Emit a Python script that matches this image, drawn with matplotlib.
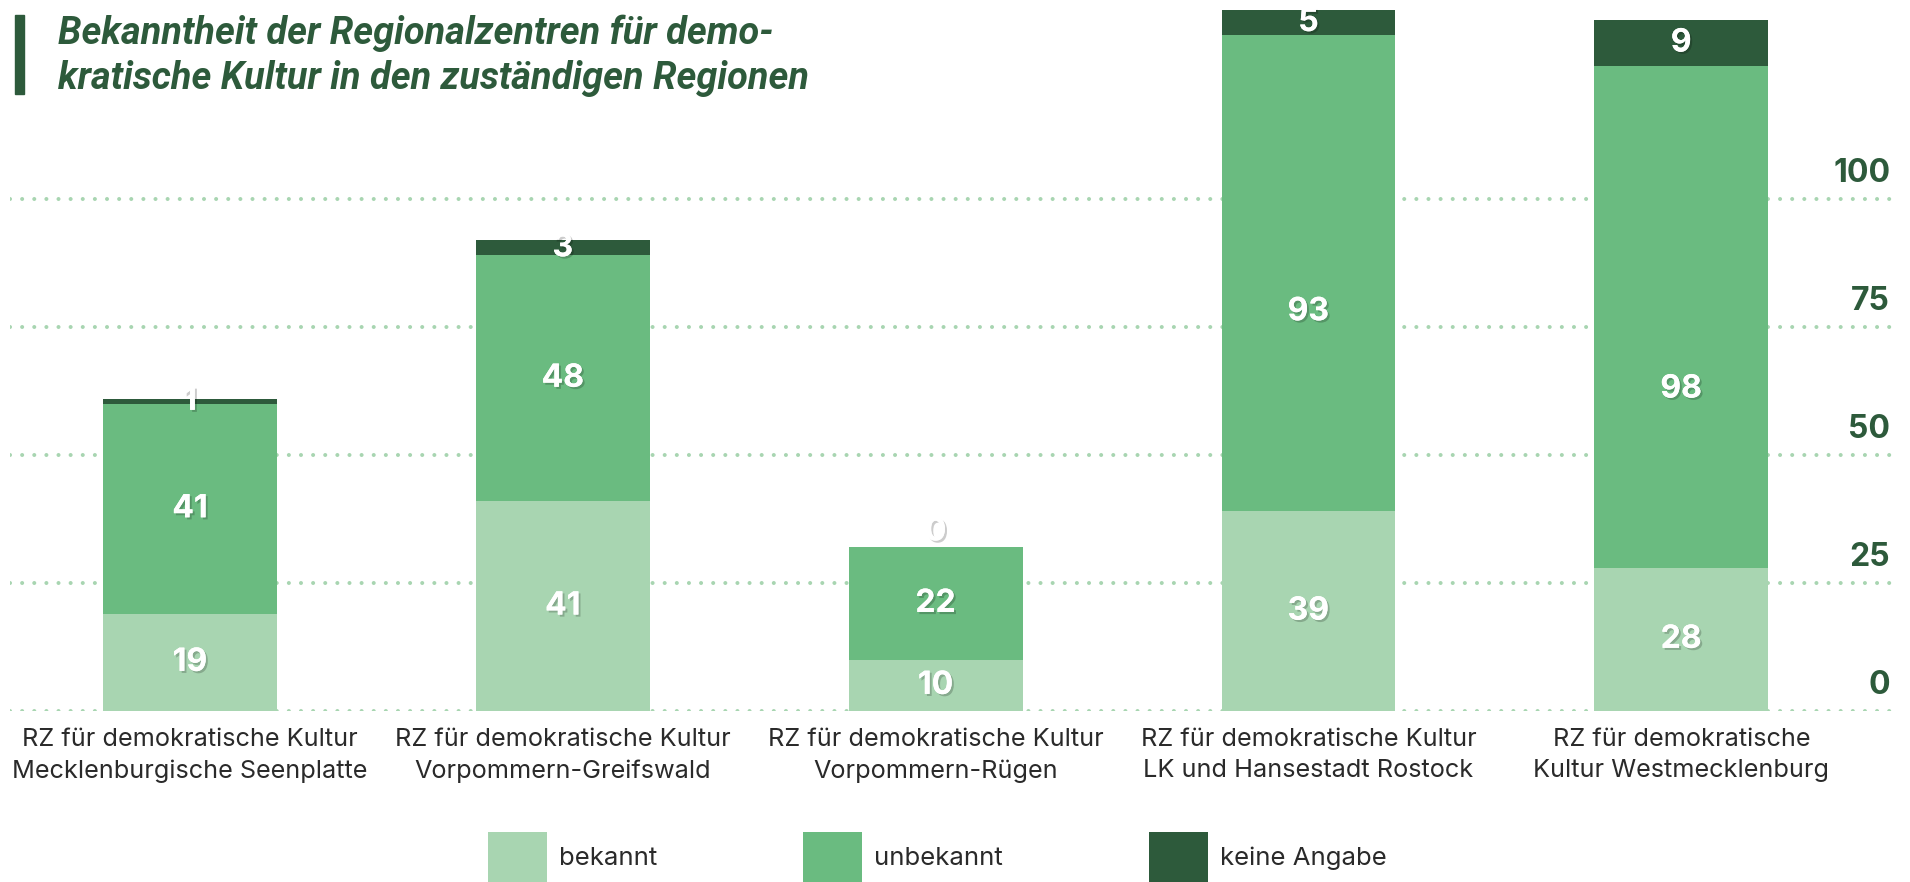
import matplotlib
matplotlib.use("Agg")
import matplotlib.pyplot as plt
import matplotlib.patheffects as pe
from matplotlib.patches import Patch
import numpy as np

# data
categories = [
    "RZ für demokratische Kultur\nMecklenburgische Seenplatte",
    "RZ für demokratische Kultur\nVorpommern-Greifswald",
    "RZ für demokratische Kultur\nVorpommern-Rügen",
    "RZ für demokratische Kultur\nLK und Hansestadt Rostock",
    "RZ für demokratische\nKultur Westmecklenburg",
]
bekannt = [19, 41, 10, 39, 28]
unbekannt = [41, 48, 22, 93, 98]
keine_angabe = [1, 3, 0, 5, 9]
series_names = ["bekannt", "unbekannt", "keine Angabe"]
y_ticks = [0, 25, 50, 75, 100]
# label heights that the original chart did not put at the segment middle
label_y_fix = {(1, 3): 78, (1, 4): 62.9, (2, 2): 35}

c_light = "#a8d5b1"
c_mid = "#6abb80"
c_dark = "#2d5a3b"
c_text = "#2a2a2a"

W, H = 1910, 882
fig = plt.figure(figsize=(W / 100, H / 100), dpi=100)
ax = fig.add_axes([10 / W, (H - 711) / H, (1893 - 10) / W, 711 / H])

x = np.arange(len(categories))
width = 0.466
series = [bekannt, unbekannt, keine_angabe]
colors = [c_light, c_mid, c_dark]
bottom = np.zeros(len(categories))
shadow = [pe.withSimplePatchShadow(offset=(1.5, -1.5), shadow_rgbFace="black", alpha=0.2), pe.Normal()]
for si, (vals, col) in enumerate(zip(series, colors)):
    vals = np.array(vals, dtype=float)
    ax.bar(x, vals, width, bottom=bottom, color=col, zorder=2)
    for xi, b, v in zip(x, bottom, vals):
        ypos = label_y_fix.get((si, xi), b + v / 2)
        ax.text(xi, ypos, f"{int(v)}", ha="center", va="center", color="white",
                fontsize=23, fontweight="bold", family="Inter", zorder=3, path_effects=shadow)
    bottom += vals

ax.set_xlim(-0.483, 4.568)
ax.set_ylim(0, 138.9)
ax.set_yticks(y_ticks)
ax.tick_params(axis="y", left=False, labelleft=False)
ax.yaxis.grid(True, color=c_light, linewidth=2.9, linestyle=(0, (0.01, 3.0)),
              dash_capstyle="round", zorder=0)
ax.set_axisbelow(True)
for t in y_ticks:
    ax.annotate(str(t), xy=(1.0, t), xycoords=ax.get_yaxis_transform(),
                xytext=(-2, 12), textcoords="offset points", ha="right", va="baseline",
                fontsize=23, fontweight="bold", family="Inter", color=c_dark)

ax.set_xticks(x, categories)
ax.tick_params(axis="x", length=0, pad=12.5, labelsize=18.2, labelcolor=c_text)
for lab in ax.get_xticklabels():
    lab.set_family("Inter")
    lab.set_linespacing(1.45)
for s in ax.spines.values():
    s.set_visible(False)

# title with accent bar
fig.add_artist(plt.Rectangle((15 / W, 1 - 94 / H), 9 / W, 79 / H, color=c_dark,
                             transform=fig.transFigure))
fig.text(58 / W, 1 - 44 / H, "Bekanntheit der Regionalzentren für demo-", fontsize=27.3,
         fontweight="bold", style="italic", family="Roboto", color=c_dark, va="baseline")
fig.text(58 / W, 1 - 89 / H, "kratische Kultur in den zuständigen Regionen", fontsize=27.3,
         fontweight="bold", style="italic", family="Roboto", color=c_dark, va="baseline")

handles = [Patch(facecolor=c, edgecolor="none", label=n) for c, n in zip(colors, series_names)]
leg = fig.legend(handles=handles, loc="lower left", bbox_to_anchor=(488 / W, 0.0), ncol=3,
                 frameon=False, fontsize=18.5, handlelength=2.3, handleheight=2.63,
                 handletextpad=0.45, columnspacing=5.7, borderpad=0, borderaxespad=0)
for t in leg.get_texts():
    t.set_family("Inter")
    t.set_color(c_text)

fig.savefig("out.png", dpi=100)
